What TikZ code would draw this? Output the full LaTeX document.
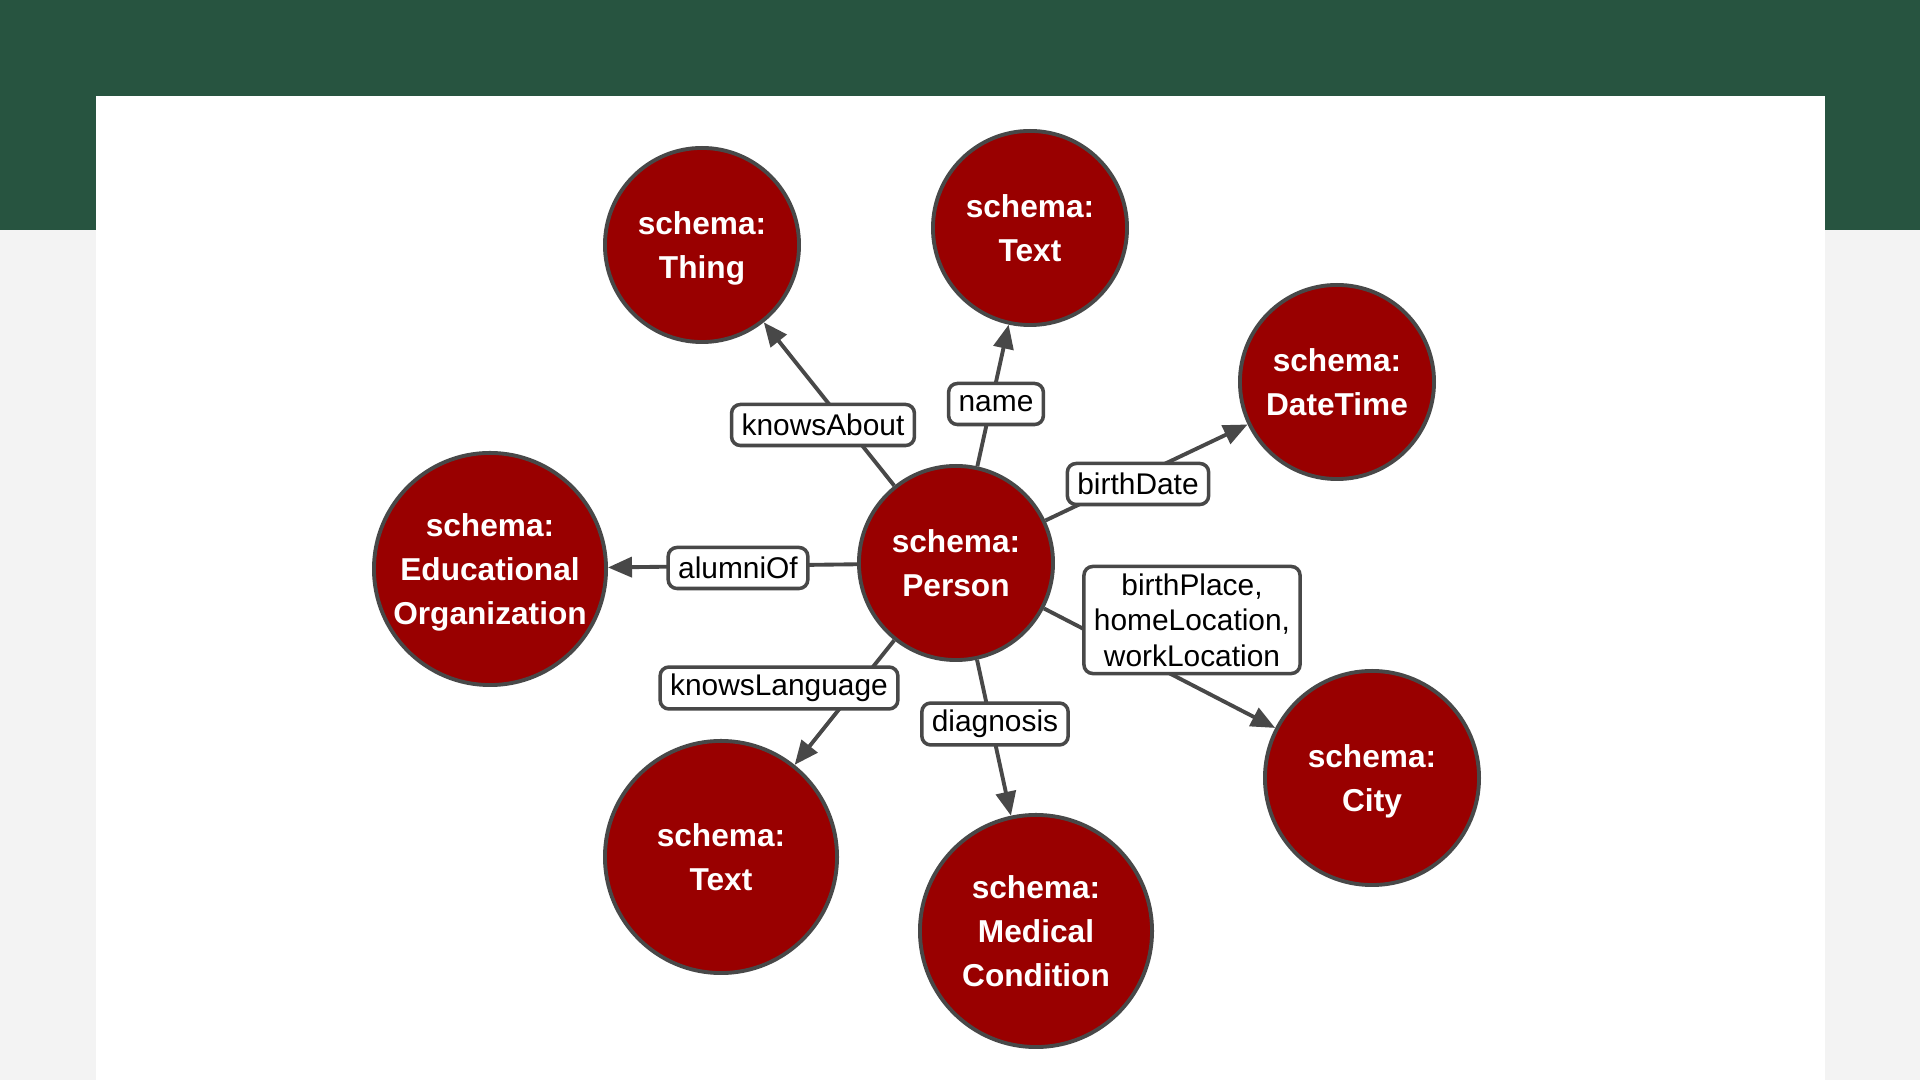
\documentclass[tikz,border=0pt]{standalone}
\usepackage{fontspec}
\setmainfont{Liberation Sans}
\usetikzlibrary{arrows.meta, positioning}
\definecolor{schgreen}{RGB}{39, 84, 64}
\definecolor{schred}{RGB}{153, 0, 0}
\definecolor{schgray}{RGB}{72, 72, 72}
\definecolor{schpage}{RGB}{243, 243, 243}

\begin{document}
\begin{tikzpicture}[
    x=0.01cm, y=-0.01cm,
    arrow/.style={-{Triangle[length=0.24cm, width=0.2cm]}, line width=1.1pt, draw=schgray},
    classnode/.style={circle, draw=schgray, fill=schred, line width=1.1pt, inner sep=0pt,
        minimum size=1.94cm, text=white, align=center,
        font=\fontsize{9}{12.5}\selectfont\bfseries},
    bignode/.style={classnode, minimum size=2.32cm},
    % descenders in the last line are not counted when centring
    dropnode/.style={text depth=-2.5pt},
    propbox/.style={rectangle, rounded corners=2.5pt, draw=schgray, fill=white,
        line width=1pt, inner xsep=0.1cm, inner ysep=2pt, minimum height=0.41cm,
        align=center, font=\fontsize{8.5}{10.1}\selectfont}
]

% === Page background ===
\fill[schpage] (0,0) rectangle (1920,1080);
\fill[schgreen] (0,0) rectangle (1920,230);
\fill[white] (96,96) rectangle (1825,1080);

% === Classes ===
\node[classnode] (person) at (956,563) {schema:\\Person};
\node[classnode, dropnode] (thing) at (702,245) {schema:\\Thing};
\node[classnode] (nametext) at (1030,228) {schema:\\Text};
\node[classnode] (datetime) at (1337,382) {schema:\\DateTime};
\node[bignode, dropnode] (eduorg) at (490,569) {schema:\\Educational\\Organization};
\node[bignode] (langtext) at (721,857) {schema:\\Text};
\node[bignode] (medical) at (1036,931) {schema:\\Medical\\Condition};
\node[classnode, dropnode, minimum size=2.14cm] (city) at (1372,778) {schema:\\City};

% === Properties: person -> value classes ===
\draw[arrow] (person) -- (thing);
\draw[arrow] (person) -- (nametext);
\draw[arrow] (person) -- (datetime);
\draw[arrow] (person) -- (eduorg);
\draw[arrow] (person) -- (city);
\draw[arrow] (person) -- (langtext);
\draw[arrow] (person) -- (medical);

% === Property labels ===
\node[propbox] (knowsabout) at (823,425) {knowsAbout};
\node[propbox] (name) at (996,404) {name};
\node[propbox] (birthdate) at (1138,484) {birthDate};
\node[propbox] (alumniof) at (738,568) {alumniOf};
\node[propbox] (places) at (1192,620) {birthPlace,\\homeLocation,\\workLocation};
\node[propbox] (knowslang) at (779,688) {knowsLanguage};
\node[propbox] (diagnosis) at (995,724) {diagnosis};

\end{tikzpicture}
\end{document}
